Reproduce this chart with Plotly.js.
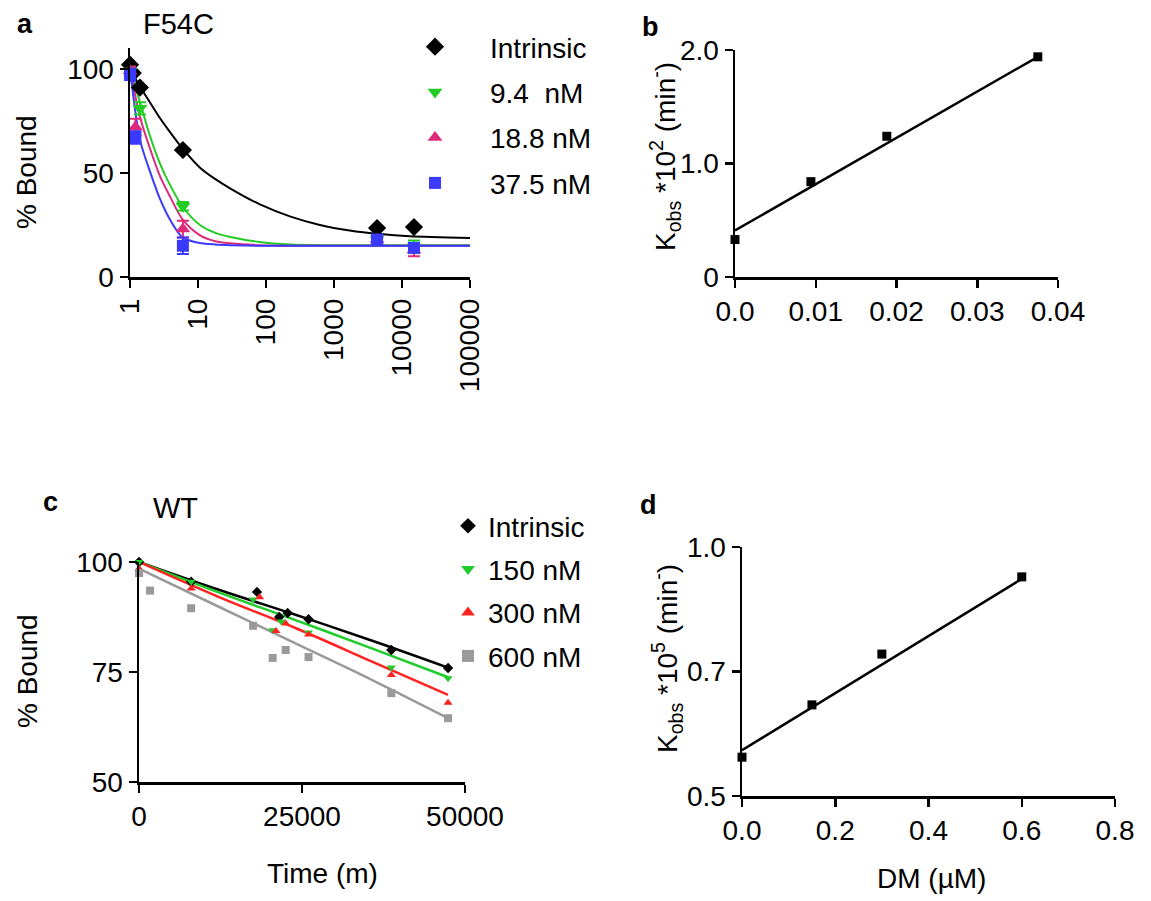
<!DOCTYPE html>
<html>
<head>
<meta charset="utf-8">
<script src="https://cdn.plot.ly/plotly-3.0.1.min.js"></script>
<style>html,body{margin:0;padding:0;background:#fff;}#chart{width:1151px;height:901px;}</style>
</head>
<body>
<div id="chart"></div>
<script>
// ---------- Panel a (F54C) ----------
const aTickVals = [1, 10, 100, 1000, 10000, 100000];
const aTickText = ["1", "10", "100", "1000", "10000", "100000"];
const aSeriesNames = ["Intrinsic", "9.4\u00a0 nM", "18.8 nM", "37.5 nM"];
const aIntrinsicT = [1, 1.1, 1.4, 6, 4300, 15000];
const aIntrinsicY = [102, 98, 91, 61, 23.5, 24];
const a94T = [1, 1.4, 6, 4300, 15000];
const a94Y = [99, 81, 34, 18, 14.5];
const a94Err = [2, 3, 2, 2, 3];
const a188T = [1, 1.2, 6, 4300, 15000];
const a188Y = [99, 72, 23, 18, 13];
const a188Err = [2, 4, 4, 2, 3];
const a375T = [1, 1.2, 6, 4300, 15000];
const a375Y = [97, 67, 15, 18, 14];
const a375Err = [3, 3, 4, 2, 2];
// fitted curves
const aFitT = [1, 1.4, 2, 2.8, 3.9, 6, 10.7, 18, 30, 80, 230, 620, 1700, 4800, 13000, 100000];
const aFitIntrinsic = [100, 91.5, 83.5, 76, 69.5, 61.5, 52.5, 47, 42.5, 35, 29, 25, 22.3, 20.6, 19.6, 18.7];
const aFit94 = [100, 84, 67, 54, 44, 33.5, 25, 21.2, 19.2, 16.8, 15.6, 15.3, 15.2, 15.2, 15.2, 15.2];
const aFit188 = [100, 77, 61, 48, 38.5, 27.4, 20, 17.2, 16.2, 15.3, 15, 15, 15, 15, 15, 15];
const aFit375 = [100, 66, 50, 37, 27.4, 18.9, 16.3, 15.6, 15.3, 15, 15, 15, 15, 15, 15, 15];

// ---------- Panel b ----------
const bX = [0, 0.0094, 0.0188, 0.0375];
const bY = [0.33, 0.84, 1.24, 1.94];
const bFitX = [0, 0.0375];
const bFitY = [0.41, 1.94];
const bTickVals = [0, 1, 2];
const bTickText = ["0", "1.0", "2.0"];
const bXTickVals = [0, 0.01, 0.02, 0.03, 0.04];
const bXTickText = ["0.0", "0.01", "0.02", "0.03", "0.04"];

// ---------- Panel c (WT) ----------
const cSeriesNames = ["Intrinsic", "150 nM", "300 nM", "600 nM"];
const cIntrinsicT = [0, 8000, 18100, 21500, 22800, 26000, 38700, 47400];
const cIntrinsicY = [100, 95.5, 93.2, 87.5, 88.4, 87, 80, 75.9];
const c150T = [0, 8000, 17500, 20500, 21800, 26000, 38700, 47400];
const c150Y = [100, 95.5, 91.5, 84.5, 86.5, 84, 76, 73.6];
const c300T = [0, 8000, 18500, 21000, 22500, 26000, 38700, 47400];
const c300Y = [98.5, 94, 92, 84.3, 86, 83.5, 74.3, 68];
const c600T = [0, 1700, 8000, 17500, 20500, 22500, 26000, 38700, 47400];
const c600Y = [97.5, 93.5, 89.5, 85.5, 78.2, 80, 78.4, 70.2, 64.5];
const cFitT = [0, 12000, 24000, 36000, 47400];
const cFitIntrinsic = [100, 93.8, 88, 82, 76];
const cFit150 = [100, 93.2, 86.8, 80.2, 73.8];
const cFit300 = [100, 92.2, 85, 77.2, 69.8];
const cFit600 = [98.5, 90, 81.5, 73, 64.5];

// ---------- Panel d ----------
const dX = [0, 0.15, 0.3, 0.6];
const dY = [0.578, 0.683, 0.785, 0.94];
const dFitX = [0, 0.6];
const dFitY = [0.592, 0.936];
const dYTickVals = [0.5, 0.75, 1.0];
const dYTickText = ["0.5", "0.7", "1.0"];
const dXTickVals = [0, 0.2, 0.4, 0.6, 0.8];
const dXTickText = ["0.0", "0.2", "0.4", "0.6", "0.8"];

// ---------- styling ----------
const W = 1151, H = 901;
const FONT = "Liberation Sans, Arial, Helvetica, sans-serif";
const BLACK = "#000000";
const aColors = ["#000000", "#22cc22", "#dd2a7b", "#3a3aff"];
const cColors = ["#000000", "#1fcc2a", "#ff2222", "#9a9a9a"];
const px = v => v / W;
const py = v => 1 - v / H;

function axisBase(extra) {
  return Object.assign({
    showline: true, linecolor: BLACK, linewidth: 2.5,
    ticks: "outside", ticklen: 8, tickwidth: 2.5, tickcolor: BLACK,
    showgrid: false, zeroline: false, mirror: false,
    tickfont: {family: FONT, size: 28, color: BLACK},
    fixedrange: true, tickmode: "array"
  }, extra);
}

const traces = [];
// panel a fits
[aFitIntrinsic, aFit94, aFit188, aFit375].forEach((ys, i) => {
  traces.push({x: aFitT, y: ys, xaxis: "x", yaxis: "y", mode: "lines",
    line: {color: aColors[i], width: 2, shape: "spline", smoothing: 0.8}, showlegend: false, hoverinfo: "skip"});
});
// panel a points
const aPts = [
  [aIntrinsicT, aIntrinsicY, null, "diamond", 14],
  [a94T, a94Y, a94Err, "triangle-down", 13],
  [a188T, a188Y, a188Err, "triangle-up", 13],
  [a375T, a375Y, a375Err, "square", 12]
];
aPts.forEach((p, i) => {
  const t = {x: p[0], y: p[1], xaxis: "x", yaxis: "y", mode: "markers", name: aSeriesNames[i],
    legend: "legend", legendgroup: "a" + i,
    marker: {color: aColors[i], symbol: p[3], size: p[4], line: {width: 0}}, cliponaxis: false};
  if (p[2]) t.error_y = {type: "data", array: p[2], visible: true, color: aColors[i], thickness: 2, width: 6};
  traces.push(t);
});

// panel b
traces.push({x: bFitX, y: bFitY, xaxis: "x2", yaxis: "y2", mode: "lines",
  line: {color: BLACK, width: 2.5}, showlegend: false, hoverinfo: "skip"});
traces.push({x: bX, y: bY, xaxis: "x2", yaxis: "y2", mode: "markers",
  marker: {color: BLACK, symbol: "square", size: 9}, showlegend: false, cliponaxis: false});

// panel c fits
[cFitIntrinsic, cFit150, cFit300, cFit600].forEach((ys, i) => {
  traces.push({x: cFitT, y: ys, xaxis: "x3", yaxis: "y3", mode: "lines",
    line: {color: cColors[i], width: 2.5, shape: "spline"}, showlegend: false, hoverinfo: "skip"});
});
const cPts = [
  [cIntrinsicT, cIntrinsicY, "diamond"],
  [c150T, c150Y, "triangle-down"],
  [c300T, c300Y, "triangle-up"],
  [c600T, c600Y, "square"]
];
cPts.forEach((p, i) => {
  traces.push({x: p[0], y: p[1], xaxis: "x3", yaxis: "y3", mode: "markers", name: cSeriesNames[i],
    legend: "legend2", legendgroup: "c" + i,
    marker: {color: cColors[i], symbol: p[2], size: 8, line: {width: 0}}, cliponaxis: false});
});

// panel d
traces.push({x: dFitX, y: dFitY, xaxis: "x4", yaxis: "y4", mode: "lines",
  line: {color: BLACK, width: 2.5}, showlegend: false, hoverinfo: "skip"});
traces.push({x: dX, y: dY, xaxis: "x4", yaxis: "y4", mode: "markers",
  marker: {color: BLACK, symbol: "square", size: 9}, showlegend: false, cliponaxis: false});

function ann(text, x, y, size, opts) {
  return Object.assign({text: text, x: px(x), y: py(y), xref: "paper", yref: "paper",
    showarrow: false, xanchor: "center", yanchor: "middle",
    font: {family: FONT, size: size, color: BLACK}}, opts || {});
}

const layout = {
  width: W, height: H,
  margin: {l: 0, r: 0, t: 0, b: 0},
  paper_bgcolor: "#ffffff", plot_bgcolor: "rgba(0,0,0,0)",
  font: {family: FONT, size: 28, color: BLACK},
  showlegend: true,
  xaxis: axisBase({type: "log", domain: [px(130), px(470)], range: [0, 5],
    tickvals: aTickVals, ticktext: aTickText, tickangle: -90, anchor: "y"}),
  yaxis: axisBase({domain: [py(277), py(48)], range: [0, 110], tickvals: [0, 50, 100], anchor: "x"}),
  xaxis2: axisBase({domain: [px(735), px(1058)], range: [0, 0.04],
    tickvals: bXTickVals, ticktext: bXTickText, anchor: "y2"}),
  yaxis2: axisBase({domain: [py(277), py(50)], range: [0, 2], tickvals: bTickVals, ticktext: bTickText, anchor: "x2"}),
  xaxis3: axisBase({domain: [px(139), px(465)], range: [0, 50000],
    tickvals: [0, 25000, 50000], ticktext: ["0", "25000", "50000"], anchor: "y3"}),
  yaxis3: axisBase({domain: [py(782), py(562)], range: [50, 100], tickvals: [50, 75, 100], anchor: "x3"}),
  xaxis4: axisBase({domain: [px(742), px(1115)], range: [0, 0.8],
    tickvals: dXTickVals, ticktext: dXTickText, anchor: "y4"}),
  yaxis4: axisBase({domain: [py(796), py(547)], range: [0.5, 1.0], tickvals: dYTickVals, ticktext: dYTickText, anchor: "x4"}),
  legend: {x: px(380), y: py(22), xanchor: "left", yanchor: "top", bgcolor: "rgba(0,0,0,0)",
    font: {family: FONT, size: 28, color: BLACK}, itemwidth: 100, tracegroupgap: 6,
    itemsizing: "trace"},
  legend2: {x: px(448), y: py(501), xanchor: "left", yanchor: "top", bgcolor: "rgba(0,0,0,0)",
    font: {family: FONT, size: 28, color: BLACK}, itemwidth: 30, tracegroupgap: 4,
    itemsizing: "constant"},
  annotations: [
    ann("<b>a</b>", 25, 24, 27),
    ann("F54C", 178, 24, 29),
    ann("<b>b</b>", 650, 27, 27),
    ann("<b>c</b>", 50, 502, 27),
    ann("WT", 175, 508, 29),
    ann("<b>d</b>", 648, 505, 27),
    ann("% Bound", 27, 172, 28, {textangle: -90}),
    ann("% Bound", 27, 671, 28, {textangle: -90}),
    ann("K<sub>obs</sub> *10<sup>2</sup> (min<sup>-</sup>)", 665, 157, 28, {textangle: -90}),
    ann("K<sub>obs</sub> *10<sup>5</sup> (min<sup>-</sup>)", 667, 659, 28, {textangle: -90}),
    ann("Time (m)", 322, 873, 28),
    ann("DM (\u00b5M)", 931, 878, 28)
  ]
};

Plotly.newPlot("chart", traces, layout, {staticPlot: true, displayModeBar: false});
</script>
</body>
</html>
